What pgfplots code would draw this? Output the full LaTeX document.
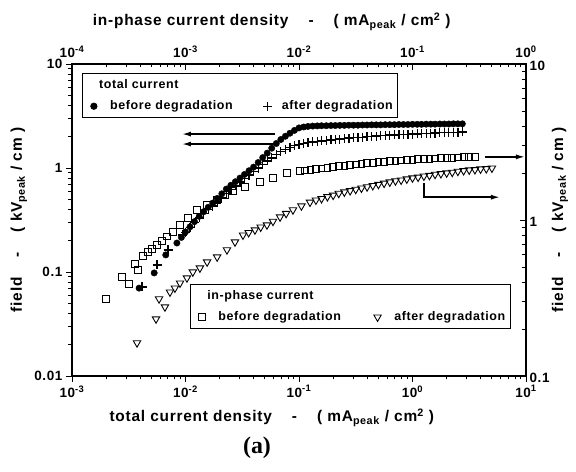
\documentclass[border=0pt]{standalone}
\usepackage{fontspec}
\setmainfont{Liberation Sans}[LetterSpace=5]
\newfontfamily\serifbf{Liberation Serif}
\usepackage{pgfplots}
\pgfplotsset{compat=1.18}
\usetikzlibrary{arrows.meta}

\pgfplotsset{
  myaxisbase/.style={
    scale only axis, width=454bp, height=312bp,
    major tick length=6bp, minor tick length=3.5bp,
    every tick/.style={black, line width=0.9pt},
    axis line style={line width=1.2pt},
    tick label style={font=\bfseries\fontsize{13.5}{15}\selectfont},
    label style={font=\bfseries\fontsize{15.5}{18}\selectfont},
    legend cell align=left,
    legend columns=2,
  }
}

\begin{document}
\begin{tikzpicture}
\useasboundingbox (-72bp,-96bp) rectangle (504bp,376bp);

% ---------- total current: bottom x, left y ----------
\begin{axis}[myaxisbase,
  xmode=log, ymode=log,
  at={(0,0)}, anchor=south west,
  xmin=1e-3, xmax=10, ymin=0.01, ymax=10,
  xtick pos=left, ytick pos=left, tick align=outside,
  xtick={1e-3,1e-2,1e-1,1,10},
  xticklabels={10\textsuperscript{-3},10\textsuperscript{-2},10\textsuperscript{-1},10\textsuperscript{0},10\textsuperscript{1}},
  minor xtick={2e-3,3e-3,4e-3,5e-3,6e-3,7e-3,8e-3,9e-3,2e-2,3e-2,4e-2,5e-2,6e-2,7e-2,8e-2,9e-2,0.2,0.3,0.4,0.5,0.6,0.7,0.8,0.9,2,3,4,5,6,7,8,9},
  ytick={0.01,0.1,1,10}, yticklabels={0.01,0.1,1,10},
  minor ytick={0.02,0.03,0.04,0.05,0.06,0.07,0.08,0.09,0.2,0.3,0.4,0.5,0.6,0.7,0.8,0.9,2,3,4,5,6,7,8,9},
  xlabel={total current density\hspace{1.3em}-\hspace{1.3em}( mA\textsubscript{peak} / cm\textsuperscript{2} )},
  xlabel style={at={(axis description cs:0.44,-0.135)}, anchor=center},
  ylabel={field\hspace{1.3em}-\hspace{1.3em}( kV\textsubscript{peak} / cm )},
  ylabel style={at={(axis description cs:-0.117,0.5)}, anchor=center},
  legend style={at={(0.022,0.971)}, anchor=north west, draw=black, line width=0.8pt, fill=white,
    font=\bfseries\fontsize{12.5}{14}\selectfont, row sep=7bp, inner ysep=4bp,
    /tikz/every even column/.append style={column sep=24bp}},
]
\addlegendimage{empty legend}\addlegendentry{total current}
\addlegendimage{empty legend}\addlegendentry{}

\addplot[only marks, mark=*, mark size=3.2bp, black] coordinates {
(0.0039,0.070)(0.0053,0.098)(0.0067,0.146)(0.0084,0.190)(0.0092,0.215)
(0.0100,0.243)(0.01096,0.272)(0.0120,0.305)(0.0132,0.343)(0.01445,0.380)
(0.01585,0.419)(0.01738,0.460)(0.01905,0.510)(0.0209,0.565)(0.0229,0.627)
(0.0251,0.682)(0.0275,0.738)(0.0302,0.800)(0.0331,0.867)(0.0363,0.942)
(0.0398,1.02)(0.0437,1.13)(0.0479,1.26)(0.0525,1.39)(0.0575,1.55)
(0.0631,1.72)(0.0692,1.88)(0.0759,2.02)(0.0832,2.16)(0.0912,2.30)
(0.100,2.43)(0.110,2.48)(0.120,2.51)(0.132,2.53)(0.145,2.54)(0.158,2.55)
(0.174,2.55)(0.191,2.56)(0.209,2.56)(0.229,2.57)(0.251,2.57)(0.275,2.58)
(0.302,2.58)(0.331,2.58)(0.363,2.59)(0.398,2.59)(0.437,2.60)(0.479,2.60)
(0.525,2.60)(0.575,2.61)(0.631,2.61)(0.692,2.61)(0.759,2.62)(0.832,2.62)
(0.912,2.62)(1.00,2.63)(1.10,2.63)(1.20,2.63)(1.32,2.64)(1.45,2.64)
(1.58,2.64)(1.74,2.65)(1.91,2.65)(2.09,2.65)(2.29,2.66)(2.51,2.66)(2.75,2.66)
};
\addlegendentry{\hspace{11bp}before degradation}

\addplot[only marks, mark=+, mark size=4.5bp, line width=1.3pt, black] coordinates {
(0.00414,0.0718)(0.00561,0.117)(0.00702,0.163)(0.0095,0.227)
(0.0100,0.240)(0.01096,0.267)(0.0120,0.297)(0.0132,0.331)(0.01445,0.365)
(0.01585,0.396)(0.01738,0.430)(0.01905,0.471)(0.0209,0.516)(0.0229,0.568)
(0.0251,0.618)(0.0275,0.673)(0.0302,0.733)(0.0331,0.792)(0.0363,0.855)
(0.0398,0.925)(0.0437,1.00)(0.0479,1.08)(0.0525,1.17)(0.0575,1.25)
(0.0631,1.34)(0.0692,1.44)(0.0759,1.51)(0.0832,1.58)(0.0912,1.64)
(0.100,1.68)(0.110,1.72)(0.120,1.76)(0.132,1.78)(0.145,1.80)(0.158,1.82)
(0.174,1.84)(0.191,1.86)(0.209,1.88)(0.229,1.90)(0.251,1.92)(0.275,1.94)
(0.302,1.95)(0.331,1.97)(0.363,1.98)(0.398,2.00)(0.437,2.01)(0.479,2.03)
(0.525,2.04)(0.575,2.05)(0.631,2.07)(0.692,2.08)(0.759,2.09)(0.832,2.10)
(0.912,2.11)(1.00,2.12)(1.10,2.13)(1.20,2.14)(1.32,2.15)(1.45,2.16)
(1.58,2.17)(1.74,2.18)(1.91,2.19)(2.09,2.19)(2.29,2.20)(2.51,2.21)(2.75,2.22)
};
\addlegendentry{\hspace{8bp}after degradation}

\draw[line width=1.5pt, -{Latex[length=9bp,width=5bp]}] (axis cs:0.0615,2.12) -- (axis cs:0.0093,2.12);
\draw[line width=1.5pt, -{Latex[length=9bp,width=5bp]}] (axis cs:0.0615,1.70) -- (axis cs:0.0093,1.70);
\end{axis}

% ---------- in-phase current: top x, right y ----------
\begin{axis}[myaxisbase,
  xmode=log, ymode=log,
  at={(0,0)}, anchor=south west,
  xmin=1e-4, xmax=1, ymin=0.1, ymax=10,
  xtick pos=right, xticklabel pos=right, ytick pos=right, yticklabel pos=right, tick align=inside,
  xtick={1e-4,1e-3,1e-2,1e-1,1},
  xticklabels={10\textsuperscript{-4},10\textsuperscript{-3},10\textsuperscript{-2},10\textsuperscript{-1},10\textsuperscript{0}},
  xticklabel style={yshift=3bp},
  yticklabel style={yshift=-2bp},
  minor xtick={2e-4,3e-4,4e-4,5e-4,6e-4,7e-4,8e-4,9e-4,2e-3,3e-3,4e-3,5e-3,6e-3,7e-3,8e-3,9e-3,2e-2,3e-2,4e-2,5e-2,6e-2,7e-2,8e-2,9e-2,0.2,0.3,0.4,0.5,0.6,0.7,0.8,0.9},
  ytick={0.1,1,10}, yticklabels={0.1,1,10},
  minor ytick={0.2,0.3,0.4,0.5,0.6,0.7,0.8,0.9,2,3,4,5,6,7,8,9},
  xlabel={in-phase current density\hspace{1.3em}-\hspace{1.3em}( mA\textsubscript{peak} / cm\textsuperscript{2} )},
  xlabel style={at={(axis description cs:0.44,1.135)}, anchor=center},
  ylabel={field\hspace{1.3em}-\hspace{1.3em}( kV\textsubscript{peak} / cm )},
  ylabel style={at={(axis description cs:1.075,0.5)}, anchor=center},
  legend style={at={(0.26,0.295)}, anchor=north west, draw=black, line width=0.8pt, fill=white,
    font=\bfseries\fontsize{12.5}{14}\selectfont, row sep=7bp, inner ysep=4bp,
    /tikz/every even column/.append style={column sep=26bp}},
]
\addlegendimage{empty legend}\addlegendentry{in-phase current}
\addlegendimage{empty legend}\addlegendentry{}

\addplot[only marks, mark=square, mark size=3.4bp, line width=0.9pt, black, mark options={fill=white}] coordinates {
(2.0e-4,0.312)(2.76e-4,0.431)(3.18e-4,0.389)(3.59e-4,0.523)(3.81e-4,0.478)
(4.22e-4,0.587)(4.68e-4,0.624)(5.1e-4,0.650)(5.61e-4,0.690)(6.21e-4,0.735)(6.87e-4,0.785)
(7.76e-4,0.838)(8.95e-4,0.929)(1.05e-3,1.03)(1.26e-3,1.16)(1.55e-3,1.25)
(1.90e-3,1.34)(2.23e-3,1.45)(2.62e-3,1.53)(3.34e-3,1.63)(4.53e-3,1.75)
(5.90e-3,1.86)(7.84e-3,2.00)(0.0102,2.06)
(0.0112,2.08)(0.0126,2.10)(0.0141,2.12)(0.0158,2.14)(0.0178,2.16)(0.0200,2.19)
(0.0224,2.21)(0.0251,2.23)(0.0282,2.25)(0.0316,2.27)(0.0355,2.29)(0.0398,2.31)
(0.0447,2.33)(0.0501,2.35)(0.0562,2.36)(0.0631,2.38)(0.0708,2.39)(0.0794,2.41)
(0.0891,2.42)(0.100,2.44)(0.112,2.45)(0.126,2.46)(0.141,2.47)(0.158,2.48)
(0.178,2.49)(0.200,2.50)(0.224,2.51)(0.251,2.52)(0.282,2.53)(0.316,2.53)(0.355,2.54)
};
\addlegendentry{\hspace{11bp}before degradation}

\addplot[only marks, mark=triangle, mark size=4.3bp, line width=0.9pt, black, mark options={fill=white, rotate=180}] coordinates {
(3.74e-4,0.163)(5.5e-4,0.232)(6.59e-4,0.277)(5.85e-4,0.312)(7.3e-4,0.345)(8.07e-4,0.366)
(8.95e-4,0.394)(1.03e-3,0.425)(1.16e-3,0.464)(1.34e-3,0.492)(1.55e-3,0.538)
(1.90e-3,0.579)(2.32e-3,0.643)(2.73e-3,0.723)(3.21e-3,0.80)(3.6e-3,0.83)
(4.09e-3,0.863)(4.6e-3,0.90)(5.22e-3,0.929)(5.9e-3,0.98)(6.81e-3,1.045)
(7.7e-3,1.10)(8.85e-3,1.16)(0.0105,1.23)(0.0125,1.30)
(0.0141,1.34)(0.0158,1.37)(0.0178,1.41)(0.0200,1.44)(0.0224,1.48)(0.0251,1.51)
(0.0282,1.54)(0.0316,1.57)(0.0355,1.60)(0.0398,1.63)(0.0447,1.66)(0.0501,1.69)
(0.0562,1.72)(0.0631,1.75)(0.0708,1.78)(0.0794,1.80)(0.0891,1.83)(0.100,1.86)
(0.112,1.88)(0.126,1.91)(0.141,1.93)(0.158,1.96)(0.178,1.98)(0.200,2.00)
(0.224,2.02)(0.251,2.05)(0.282,2.07)(0.316,2.09)(0.355,2.10)(0.398,2.12)
(0.447,2.13)(0.501,2.15)
};
\addlegendentry{\hspace{11bp}after degradation}

\draw[line width=1.5pt, -{Latex[length=9bp,width=5bp]}] (axis cs:0.435,2.54) -- (axis cs:0.98,2.54);
\draw[line width=1.5pt, -{Latex[length=9bp,width=5bp]}] (axis cs:0.126,1.73) -- (axis cs:0.126,1.40) -- (axis cs:0.59,1.40);
\end{axis}

\node[font=\serifbf\bfseries\fontsize{24}{28}\selectfont] at (185bp,-72bp) {(a)};
\end{tikzpicture}
\end{document}
